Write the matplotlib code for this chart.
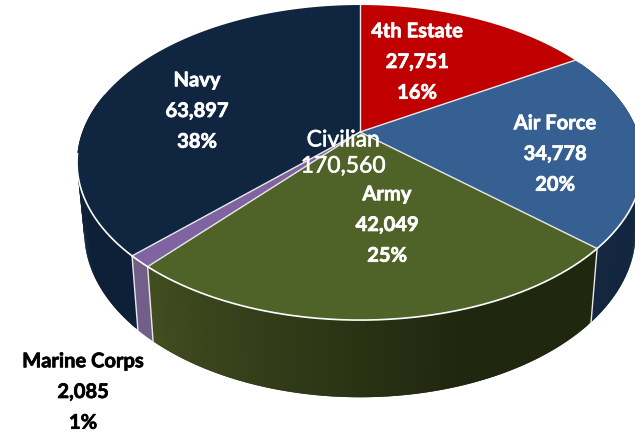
import numpy as np
import matplotlib
matplotlib.use("Agg")
import matplotlib.pyplot as plt
import matplotlib.patheffects as pe
from matplotlib.collections import PolyCollection

# slices, clockwise from 12 o'clock
names = ["4th Estate", "Air Force", "Army", "Marine Corps", "Navy"]
values = [27751, 34778, 42049, 2085, 63897]
percents = [16, 20, 25, 1, 38]
total_label = "Civilian"
total_value = 170560

top_colors = ["#c00000", "#376092", "#4f6228", "#8064a2", "#10253f"]
# wall shade at the start and end of each slice
wall_colors = [("#600000", "#600000"), ("#10243f", "#14273f"), ("#20270f", "#424d20"),
               ("#65507f", "#65507f"), ("#0d2037", "#0f2239")]
text_colors = ["white", "white", "white", "black", "white"]
label_xy = [(417, 62), (555, 154), (387, 225), (83, 392), (197, 111)]

plt.rcParams["font.family"] = ["Lato", "DejaVu Sans"]

fig = plt.figure(figsize=(6.35, 4.34), dpi=100)
ax = fig.add_axes([0, 0, 1, 1])
ax.set_xlim(0, 635)
ax.set_ylim(434, 0)
ax.axis("off")


# tilted disc: angle in radians clockwise from the top, k gives the perspective
def rim(theta, b, a, y0, k=0.194):
    xx = np.sin(theta)
    yy = np.cos(theta)
    d = 1 + k * yy
    return 360 + b * xx / d, y0 - a * yy / d


def top_rim(theta):
    return rim(theta, 277.6, 151.6, 132)


def low_rim(theta):
    return rim(theta, 270.5, 159, 200)


edges = np.cumsum([0] + values) / sum(values) * 2 * np.pi

# walls first, only the slices facing us
for i in range(len(values)):
    start = max(edges[i], np.radians(60))
    end = min(edges[i + 1], np.radians(285))
    if end <= start:
        continue
    th = np.linspace(start, end, 90)
    x1, y1 = top_rim(th)
    x2, y2 = low_rim(th)
    c0 = np.array(matplotlib.colors.to_rgb(wall_colors[i][0]))
    c1 = np.array(matplotlib.colors.to_rgb(wall_colors[i][1]))
    quads = []
    cols = []
    for j in range(len(th) - 1):
        # overlap the next strip so no seams show
        n = min(j + 2, len(th) - 1)
        quads.append([(x1[j], y1[j]), (x1[n], y1[n]), (x2[n], y2[n]), (x2[j], y2[j])])
        t = j / (len(th) - 2)
        cols.append(c0 + (c1 - c0) * max(0, (t - 0.35) / 0.65))
    ax.add_collection(PolyCollection(quads, facecolors=cols, edgecolors="none", linewidths=0))

# top face
for i in range(len(values)):
    th = np.linspace(edges[i], edges[i + 1], 120)
    x, y = top_rim(th)
    ax.fill(np.r_[360, x], np.r_[132, y], color=top_colors[i], lw=0)

# white seams
for i in range(len(values)):
    x, y = top_rim(np.array([edges[i]]))
    ax.plot([360, x[0]], [132, y[0]], color="#e8e8e8", lw=1)
    if np.radians(60) < edges[i] < np.radians(285):
        x2, y2 = low_rim(np.array([edges[i]]))
        ax.plot([x[0], x2[0]], [y[0], y2[0]], color="#e8e8e8", lw=1)

th = np.linspace(np.radians(110), np.radians(262), 300)
x, y = top_rim(th)
ax.plot(x, y, color="white", lw=1.2)

# labels
for i in range(len(names)):
    t = ax.text(label_xy[i][0], label_xy[i][1], f"{names[i]}\n{values[i]:,}\n{percents[i]}%",
                color=text_colors[i], fontsize=14.5, fontweight="bold", ha="center", va="center",
                linespacing=1.67)
    t.set_path_effects([pe.withStroke(linewidth=0.5, foreground=text_colors[i])])

total = ax.text(343, 153, f"{total_label}\n{total_value:,}", color="white", fontsize=16.5,
                ha="center", va="center", linespacing=1.3)
total.set_path_effects([pe.withStroke(linewidth=0.4, foreground="white")])

fig.savefig("out.png", dpi=100)
